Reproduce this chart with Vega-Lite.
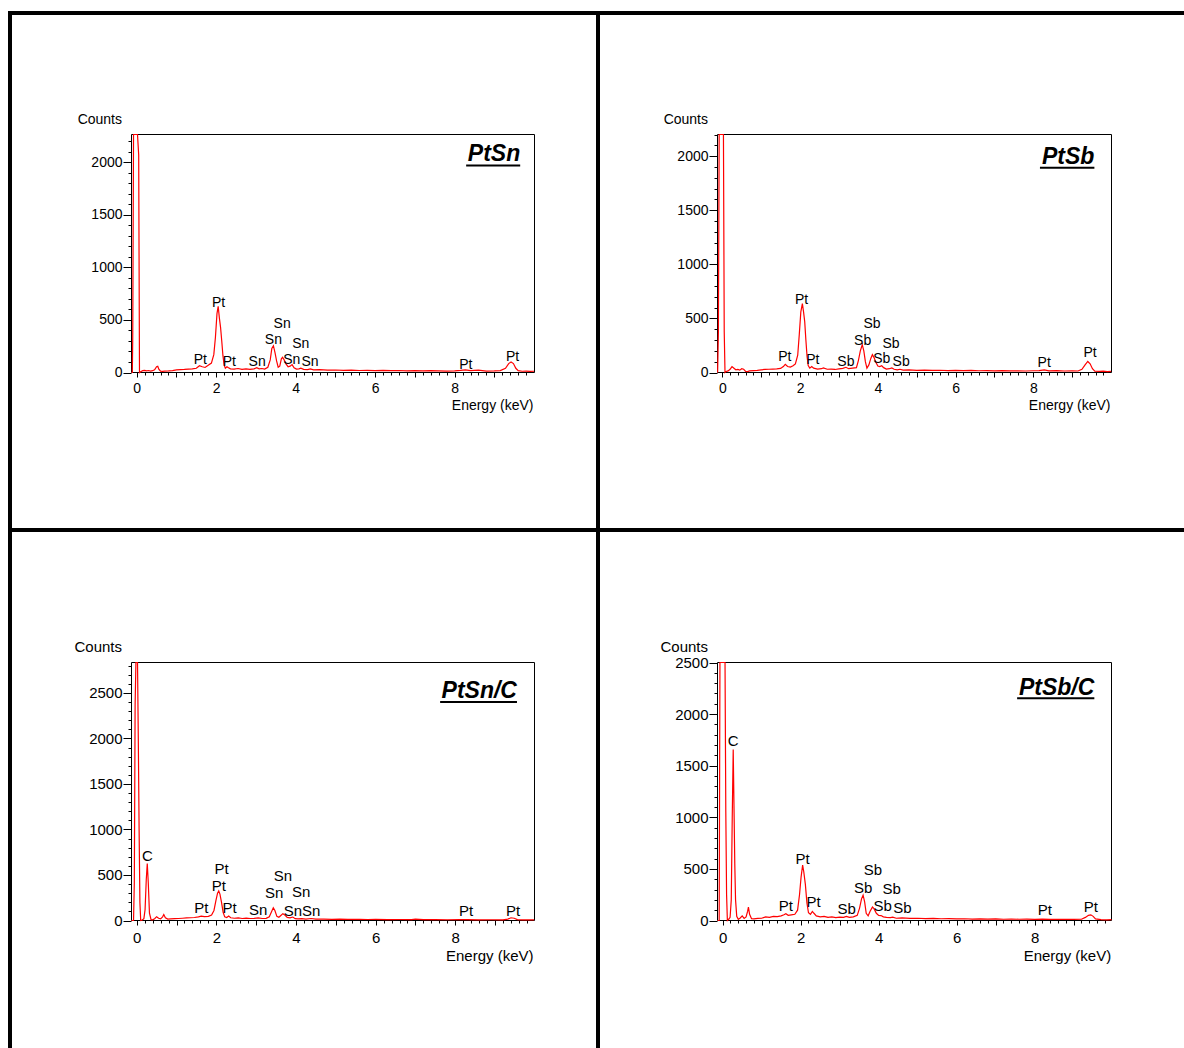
{
  "$schema": "https://vega.github.io/schema/vega-lite/v6.json",
  "padding": {"left": 8, "top": 11, "right": 0, "bottom": 0},
  "background": "white",
  "config": {
    "view": {"stroke": "black", "strokeWidth": 4, "fill": "white"},
    "axis": {
      "domain": false, "grid": false, "tickColor": "black", "tickWidth": 1,
      "labelColor": "black", "labelFont": "Liberation Sans", "titleFont": "Liberation Sans",
      "titleColor": "black", "titleFontWeight": "normal", "labelOverlap": false, "labelFlush": false,
      "titleAngle": 0, "titleBaseline": "alphabetic", "titleAlign": "right"
    },
    "text": {"font": "Liberation Sans", "color": "black"}
  },
  "datasets": {
    "ptsn": [
      {"e":-0.13,"c":0},{"e":-0.11,"c":0},{"e":-0.1,"c":330},{"e":-0.08,"c":6000},{"e":0.02,"c":6000},{"e":0.05,"c":2070},{"e":0.07,"c":0},{"e":0.1,"c":8},{"e":0.15,"c":18},{"e":0.2,"c":20},{"e":0.25,"c":16},{"e":0.3,"c":19},{"e":0.35,"c":14},{"e":0.4,"c":17},{"e":0.45,"c":25},{"e":0.5,"c":55},{"e":0.53,"c":60},{"e":0.56,"c":30},{"e":0.6,"c":12},{"e":0.65,"c":10},{"e":0.7,"c":13},{"e":0.8,"c":15},{"e":0.9,"c":18},{"e":1.0,"c":25},{"e":1.1,"c":28},{"e":1.2,"c":30},{"e":1.3,"c":33},{"e":1.4,"c":35},{"e":1.5,"c":40},{"e":1.58,"c":65},{"e":1.65,"c":55},{"e":1.72,"c":48},{"e":1.8,"c":70},{"e":1.88,"c":90},{"e":1.94,"c":170},{"e":1.98,"c":330},{"e":2.02,"c":560},{"e":2.05,"c":630},{"e":2.08,"c":520},{"e":2.11,"c":430},{"e":2.14,"c":300},{"e":2.17,"c":160},{"e":2.2,"c":70},{"e":2.23,"c":40},{"e":2.27,"c":55},{"e":2.31,"c":45},{"e":2.36,"c":35},{"e":2.45,"c":32},{"e":2.55,"c":38},{"e":2.65,"c":30},{"e":2.75,"c":35},{"e":2.85,"c":30},{"e":2.95,"c":35},{"e":3.02,"c":45},{"e":3.08,"c":35},{"e":3.15,"c":38},{"e":3.22,"c":33},{"e":3.3,"c":50},{"e":3.36,"c":120},{"e":3.4,"c":230},{"e":3.44,"c":255},{"e":3.48,"c":190},{"e":3.52,"c":110},{"e":3.56,"c":50},{"e":3.6,"c":60},{"e":3.64,"c":130},{"e":3.67,"c":145},{"e":3.71,"c":120},{"e":3.76,"c":80},{"e":3.81,"c":55},{"e":3.86,"c":60},{"e":3.91,"c":75},{"e":3.96,"c":45},{"e":4.02,"c":32},{"e":4.08,"c":35},{"e":4.13,"c":42},{"e":4.2,"c":30},{"e":4.3,"c":28},{"e":4.37,"c":35},{"e":4.45,"c":25},{"e":4.6,"c":27},{"e":4.8,"c":22},{"e":5.0,"c":24},{"e":5.2,"c":20},{"e":5.4,"c":22},{"e":5.6,"c":19},{"e":5.8,"c":21},{"e":6.0,"c":18},{"e":6.2,"c":20},{"e":6.4,"c":17},{"e":6.6,"c":19},{"e":6.8,"c":16},{"e":7.0,"c":18},{"e":7.2,"c":15},{"e":7.4,"c":17},{"e":7.6,"c":15},{"e":7.8,"c":14},{"e":8.0,"c":16},{"e":8.15,"c":20},{"e":8.27,"c":25},{"e":8.4,"c":17},{"e":8.6,"c":22},{"e":8.8,"c":14},{"e":9.0,"c":15},{"e":9.15,"c":18},{"e":9.28,"c":40},{"e":9.36,"c":85},{"e":9.42,"c":100},{"e":9.48,"c":85},{"e":9.54,"c":40},{"e":9.6,"c":18},{"e":9.7,"c":12},{"e":9.8,"c":14},{"e":9.9,"c":11},{"e":10.0,"c":12}
    ],
    "ptsb": [
      {"e":-0.12,"c":0},{"e":-0.1,"c":370},{"e":-0.08,"c":6000},{"e":0.03,"c":6000},{"e":0.05,"c":380},{"e":0.07,"c":0},{"e":0.1,"c":10},{"e":0.15,"c":15},{"e":0.2,"c":30},{"e":0.25,"c":55},{"e":0.3,"c":40},{"e":0.35,"c":25},{"e":0.4,"c":28},{"e":0.45,"c":22},{"e":0.5,"c":35},{"e":0.55,"c":30},{"e":0.6,"c":10},{"e":0.65,"c":8},{"e":0.7,"c":15},{"e":0.8,"c":18},{"e":0.9,"c":20},{"e":1.0,"c":25},{"e":1.1,"c":28},{"e":1.2,"c":30},{"e":1.3,"c":32},{"e":1.4,"c":34},{"e":1.5,"c":38},{"e":1.57,"c":55},{"e":1.62,"c":75},{"e":1.68,"c":55},{"e":1.75,"c":50},{"e":1.82,"c":62},{"e":1.88,"c":80},{"e":1.94,"c":160},{"e":1.98,"c":350},{"e":2.02,"c":560},{"e":2.06,"c":636},{"e":2.09,"c":560},{"e":2.12,"c":470},{"e":2.15,"c":300},{"e":2.18,"c":150},{"e":2.21,"c":65},{"e":2.25,"c":40},{"e":2.3,"c":55},{"e":2.35,"c":40},{"e":2.45,"c":32},{"e":2.55,"c":35},{"e":2.6,"c":42},{"e":2.7,"c":30},{"e":2.8,"c":32},{"e":2.9,"c":28},{"e":3.0,"c":33},{"e":3.1,"c":38},{"e":3.18,"c":48},{"e":3.25,"c":35},{"e":3.35,"c":40},{"e":3.45,"c":45},{"e":3.5,"c":110},{"e":3.55,"c":200},{"e":3.6,"c":257},{"e":3.64,"c":200},{"e":3.68,"c":100},{"e":3.72,"c":40},{"e":3.77,"c":70},{"e":3.82,"c":130},{"e":3.86,"c":165},{"e":3.9,"c":140},{"e":3.95,"c":95},{"e":4.0,"c":60},{"e":4.05,"c":55},{"e":4.1,"c":62},{"e":4.15,"c":45},{"e":4.22,"c":32},{"e":4.3,"c":35},{"e":4.36,"c":42},{"e":4.42,"c":30},{"e":4.5,"c":25},{"e":4.57,"c":30},{"e":4.65,"c":22},{"e":4.8,"c":24},{"e":5.0,"c":20},{"e":5.2,"c":22},{"e":5.4,"c":19},{"e":5.6,"c":21},{"e":5.8,"c":18},{"e":6.0,"c":20},{"e":6.2,"c":17},{"e":6.4,"c":19},{"e":6.6,"c":16},{"e":6.8,"c":18},{"e":7.0,"c":15},{"e":7.2,"c":17},{"e":7.4,"c":15},{"e":7.6,"c":16},{"e":7.8,"c":14},{"e":8.0,"c":16},{"e":8.15,"c":18},{"e":8.28,"c":24},{"e":8.4,"c":15},{"e":8.6,"c":17},{"e":8.8,"c":14},{"e":9.0,"c":15},{"e":9.15,"c":14},{"e":9.25,"c":30},{"e":9.33,"c":70},{"e":9.4,"c":102},{"e":9.46,"c":80},{"e":9.52,"c":35},{"e":9.58,"c":12},{"e":9.7,"c":10},{"e":9.8,"c":12},{"e":9.9,"c":9},{"e":10.0,"c":10}
    ],
    "ptsnc": [
      {"e":-0.13,"c":0},{"e":-0.08,"c":0},{"e":-0.06,"c":420},{"e":-0.04,"c":2370},{"e":-0.02,"c":6000},{"e":0.02,"c":6000},{"e":0.04,"c":1990},{"e":0.06,"c":1000},{"e":0.08,"c":200},{"e":0.1,"c":0},{"e":0.14,"c":5},{"e":0.18,"c":20},{"e":0.21,"c":120},{"e":0.24,"c":450},{"e":0.265,"c":627},{"e":0.29,"c":420},{"e":0.32,"c":80},{"e":0.36,"c":10},{"e":0.4,"c":8},{"e":0.45,"c":20},{"e":0.5,"c":42},{"e":0.55,"c":25},{"e":0.6,"c":18},{"e":0.65,"c":40},{"e":0.68,"c":65},{"e":0.72,"c":30},{"e":0.78,"c":15},{"e":0.85,"c":18},{"e":0.95,"c":20},{"e":1.05,"c":22},{"e":1.15,"c":25},{"e":1.25,"c":28},{"e":1.35,"c":30},{"e":1.45,"c":33},{"e":1.55,"c":40},{"e":1.62,"c":48},{"e":1.7,"c":42},{"e":1.8,"c":45},{"e":1.88,"c":60},{"e":1.94,"c":110},{"e":1.99,"c":220},{"e":2.03,"c":300},{"e":2.06,"c":325},{"e":2.09,"c":290},{"e":2.13,"c":200},{"e":2.17,"c":90},{"e":2.21,"c":40},{"e":2.26,"c":32},{"e":2.31,"c":48},{"e":2.36,"c":30},{"e":2.45,"c":25},{"e":2.55,"c":28},{"e":2.65,"c":22},{"e":2.75,"c":25},{"e":2.85,"c":22},{"e":2.95,"c":24},{"e":3.05,"c":28},{"e":3.15,"c":22},{"e":3.25,"c":24},{"e":3.33,"c":40},{"e":3.38,"c":90},{"e":3.43,"c":140},{"e":3.47,"c":110},{"e":3.52,"c":45},{"e":3.57,"c":35},{"e":3.62,"c":55},{"e":3.67,"c":75},{"e":3.72,"c":60},{"e":3.78,"c":35},{"e":3.85,"c":30},{"e":3.92,"c":38},{"e":3.98,"c":20},{"e":4.05,"c":18},{"e":4.15,"c":20},{"e":4.25,"c":16},{"e":4.38,"c":22},{"e":4.5,"c":15},{"e":4.7,"c":16},{"e":4.9,"c":13},{"e":5.1,"c":15},{"e":5.3,"c":12},{"e":5.6,"c":14},{"e":5.8,"c":11},{"e":6.0,"c":12},{"e":6.3,"c":10},{"e":6.6,"c":11},{"e":6.9,"c":10},{"e":7.0,"c":14},{"e":7.2,"c":9},{"e":7.5,"c":10},{"e":7.8,"c":8},{"e":8.1,"c":9},{"e":8.3,"c":10},{"e":8.6,"c":7},{"e":8.9,"c":8},{"e":9.2,"c":7},{"e":9.32,"c":15},{"e":9.4,"c":30},{"e":9.48,"c":25},{"e":9.56,"c":10},{"e":9.7,"c":7},{"e":9.85,"c":6},{"e":9.98,"c":7}
    ],
    "ptsbc": [
      {"e":-0.13,"c":0},{"e":-0.09,"c":0},{"e":-0.07,"c":6000},{"e":0.06,"c":6000},{"e":0.08,"c":1050},{"e":0.1,"c":250},{"e":0.12,"c":0},{"e":0.15,"c":10},{"e":0.19,"c":30},{"e":0.22,"c":200},{"e":0.245,"c":1000},{"e":0.27,"c":1657},{"e":0.29,"c":1100},{"e":0.31,"c":550},{"e":0.33,"c":200},{"e":0.36,"c":40},{"e":0.4,"c":12},{"e":0.45,"c":25},{"e":0.5,"c":45},{"e":0.55,"c":20},{"e":0.6,"c":35},{"e":0.64,"c":90},{"e":0.66,"c":130},{"e":0.69,"c":60},{"e":0.74,"c":18},{"e":0.8,"c":15},{"e":0.9,"c":20},{"e":1.0,"c":22},{"e":1.1,"c":35},{"e":1.2,"c":30},{"e":1.3,"c":40},{"e":1.4,"c":38},{"e":1.5,"c":45},{"e":1.57,"c":55},{"e":1.62,"c":65},{"e":1.68,"c":50},{"e":1.76,"c":55},{"e":1.85,"c":60},{"e":1.92,"c":100},{"e":1.97,"c":250},{"e":2.01,"c":420},{"e":2.05,"c":536},{"e":2.08,"c":470},{"e":2.12,"c":350},{"e":2.16,"c":170},{"e":2.2,"c":75},{"e":2.25,"c":60},{"e":2.3,"c":88},{"e":2.34,"c":70},{"e":2.4,"c":45},{"e":2.5,"c":35},{"e":2.6,"c":40},{"e":2.7,"c":30},{"e":2.8,"c":35},{"e":2.9,"c":28},{"e":3.0,"c":32},{"e":3.1,"c":30},{"e":3.17,"c":40},{"e":3.25,"c":30},{"e":3.35,"c":35},{"e":3.45,"c":50},{"e":3.51,"c":120},{"e":3.56,"c":210},{"e":3.6,"c":245},{"e":3.64,"c":180},{"e":3.68,"c":70},{"e":3.73,"c":45},{"e":3.78,"c":90},{"e":3.84,"c":130},{"e":3.88,"c":115},{"e":3.94,"c":70},{"e":4.0,"c":50},{"e":4.06,"c":48},{"e":4.12,"c":35},{"e":4.2,"c":30},{"e":4.3,"c":28},{"e":4.36,"c":32},{"e":4.45,"c":22},{"e":4.6,"c":25},{"e":4.8,"c":20},{"e":5.0,"c":22},{"e":5.2,"c":18},{"e":5.4,"c":20},{"e":5.6,"c":17},{"e":5.8,"c":18},{"e":6.0,"c":15},{"e":6.2,"c":17},{"e":6.4,"c":14},{"e":6.6,"c":15},{"e":6.8,"c":13},{"e":7.0,"c":15},{"e":7.2,"c":12},{"e":7.4,"c":14},{"e":7.6,"c":12},{"e":7.8,"c":13},{"e":8.0,"c":11},{"e":8.2,"c":14},{"e":8.4,"c":11},{"e":8.6,"c":12},{"e":8.8,"c":10},{"e":9.0,"c":11},{"e":9.2,"c":12},{"e":9.3,"c":30},{"e":9.38,"c":50},{"e":9.44,"c":55},{"e":9.5,"c":40},{"e":9.56,"c":15},{"e":9.7,"c":8},{"e":9.85,"c":7},{"e":9.97,"c":8}
    ],
    "ptsnLabels": [
      {"e":2.06,"c":620,"t":"Pt"},{"e":1.6,"c":82,"t":"Pt"},{"e":2.33,"c":66,"t":"Pt"},{"e":3.03,"c":66,"t":"Sn"},{"e":3.44,"c":272,"t":"Sn"},{"e":3.66,"c":423,"t":"Sn"},{"e":3.9,"c":82,"t":"Sn"},{"e":4.13,"c":234,"t":"Sn"},{"e":4.36,"c":66,"t":"Sn"},{"e":8.28,"c":38,"t":"Pt"},{"e":9.46,"c":114,"t":"Pt"}
    ],
    "ptsbLabels": [
      {"e":2.04,"c":629,"t":"Pt"},{"e":1.61,"c":108,"t":"Pt"},{"e":2.33,"c":78,"t":"Pt"},{"e":3.18,"c":62,"t":"Sb"},{"e":3.61,"c":257,"t":"Sb"},{"e":3.85,"c":409,"t":"Sb"},{"e":4.1,"c":87,"t":"Sb"},{"e":4.34,"c":229,"t":"Sb"},{"e":4.6,"c":56,"t":"Sb"},{"e":8.28,"c":47,"t":"Pt"},{"e":9.46,"c":143,"t":"Pt"}
    ],
    "ptsncLabels": [
      {"e":0.27,"c":657,"t":"C"},{"e":2.13,"c":509,"t":"Pt"},{"e":2.06,"c":321,"t":"Pt"},{"e":1.62,"c":85,"t":"Pt"},{"e":2.33,"c":81,"t":"Pt"},{"e":3.05,"c":55,"t":"Sn"},{"e":3.45,"c":247,"t":"Sn"},{"e":3.67,"c":432,"t":"Sn"},{"e":4.13,"c":258,"t":"Sn"},{"e":3.92,"c":52,"t":"Sn"},{"e":4.38,"c":52,"t":"Sn"},{"e":8.27,"c":44,"t":"Pt"},{"e":9.45,"c":48,"t":"Pt"}
    ],
    "ptsbcLabels": [
      {"e":0.27,"c":1690,"t":"C"},{"e":2.05,"c":543,"t":"Pt"},{"e":1.62,"c":91,"t":"Pt"},{"e":2.33,"c":130,"t":"Pt"},{"e":3.18,"c":65,"t":"Sb"},{"e":3.6,"c":267,"t":"Sb"},{"e":3.85,"c":439,"t":"Sb"},{"e":4.33,"c":254,"t":"Sb"},{"e":4.1,"c":88,"t":"Sb"},{"e":4.61,"c":72,"t":"Sb"},{"e":8.26,"c":49,"t":"Pt"},{"e":9.44,"c":78,"t":"Pt"}
    ]
  },
  "columns": 2,
  "spacing": 0,
  "bounds": "flush",
  "concat": [
    {
      "width": 588, "height": 517,
      "resolve": {"axis": {"x": "independent", "y": "independent"}},
      "layer": [
        {
          "data": {"values": [{}]},
          "mark": {"type": "rect", "filled": false, "stroke": "black", "strokeWidth": 1},
          "encoding": {
            "x": {"datum": -0.131, "type": "quantitative", "axis": {"orient": "bottom", "offset": -158, "labels": false, "tickSize": 3, "title": null, "values": [0.2,0.4,0.6,0.8,1.2,1.4,1.6,1.8,2.2,2.4,2.6,2.8,3.2,3.4,3.6,3.8,4.2,4.4,4.6,4.8,5.2,5.4,5.6,5.8,6.2,6.4,6.6,6.8,7.2,7.4,7.6,7.8,8.2,8.4,8.6,8.8,9.2,9.4,9.6,9.8]}},
            "x2": {"datum": 10.01},
            "y": {"datum": 0, "type": "quantitative", "axis": {"orient": "left", "offset": -121, "labels": false, "tickSize": 3, "title": null, "values": [100,200,300,400,600,700,800,900,1100,1200,1300,1400,1600,1700,1800,1900,2100,2200]}},
            "y2": {"datum": 2265}
          }
        },
        {
          "data": {"name": "ptsn"},
          "mark": {"type": "line", "color": "#ff0000", "strokeWidth": 1.2},
          "encoding": {
            "x": {
              "field": "e", "type": "quantitative",
              "scale": {"domain": [-0.131, 10.01], "range": [121.5, 524.5], "nice": false, "zero": false},
              "axis": {
                "orient": "bottom", "offset": -158, "values": [0,1,2,3,4,5,6,7,8,9],
                "labelExpr": "datum.value % 2 === 0 ? datum.label : ''",
                "tickSize": 5, "labelPadding": 4.5, "labelFontSize": 14,
                "title": "Energy (keV)", "titleFontSize": 14, "titleX": 523, "titleY": 37
              }
            },
            "y": {
              "field": "c", "type": "quantitative",
              "scale": {"domain": [0, 2265], "range": [359.5, 121.5], "nice": false, "clamp": true},
              "axis": {
                "orient": "left", "offset": -121, "values": [0,500,1000,1500,2000], "format": "d",
                "tickSize": 8, "labelPadding": 1, "labelFontSize": 14,
                "title": "Counts", "titleFontSize": 14, "titleX": -9.5, "titleY": 110
              }
            }
          }
        },
        {
          "data": {"name": "ptsnLabels"},
          "mark": {"type": "text", "align": "center", "baseline": "alphabetic", "fontSize": 14},
          "encoding": {
            "x": {"field": "e", "type": "quantitative", "axis": null},
            "y": {"field": "c", "type": "quantitative", "axis": null},
            "text": {"field": "t"}
          }
        },
        {
          "data": {"values": [{"t": "PtSn"}]},
          "mark": {"type": "text", "align": "right", "baseline": "alphabetic", "fontSize": 23, "fontWeight": "bold", "fontStyle": "italic"},
          "encoding": {
            "x": {"datum": 9.65, "type": "quantitative", "axis": null},
            "y": {"datum": 2013, "type": "quantitative", "axis": null},
            "text": {"field": "t"}
          }
        },
        {
          "data": {"values": [{}]},
          "mark": {"type": "rule", "color": "black", "strokeWidth": 2},
          "encoding": {
            "x": {"datum": 8.29, "type": "quantitative", "axis": null}, "x2": {"datum": 9.65},
            "y": {"datum": 1970, "type": "quantitative", "axis": null}
          }
        }
      ]
    },
    {
      "width": 588, "height": 517,
      "resolve": {"axis": {"x": "independent", "y": "independent"}},
      "layer": [
        {
          "data": {"values": [{}]},
          "mark": {"type": "rect", "filled": false, "stroke": "black", "strokeWidth": 1},
          "encoding": {
            "x": {"datum": -0.123, "type": "quantitative", "axis": {"orient": "bottom", "offset": -158, "labels": false, "tickSize": 3, "title": null, "values": [0.2,0.4,0.6,0.8,1.2,1.4,1.6,1.8,2.2,2.4,2.6,2.8,3.2,3.4,3.6,3.8,4.2,4.4,4.6,4.8,5.2,5.4,5.6,5.8,6.2,6.4,6.6,6.8,7.2,7.4,7.6,7.8,8.2,8.4,8.6,8.8,9.2,9.4,9.6,9.8]}},
            "x2": {"datum": 10.01},
            "y": {"datum": 0, "type": "quantitative", "axis": {"orient": "left", "offset": -119, "labels": false, "tickSize": 3, "title": null, "values": [100,200,300,400,600,700,800,900,1100,1200,1300,1400,1600,1700,1800,1900,2100,2200]}},
            "y2": {"datum": 2200}
          }
        },
        {
          "data": {"name": "ptsb"},
          "mark": {"type": "line", "color": "#ff0000", "strokeWidth": 1.2},
          "encoding": {
            "x": {
              "field": "e", "type": "quantitative",
              "scale": {"domain": [-0.123, 10.01], "range": [119.5, 513.5], "nice": false, "zero": false},
              "axis": {
                "orient": "bottom", "offset": -158, "values": [0,1,2,3,4,5,6,7,8,9],
                "labelExpr": "datum.value % 2 === 0 ? datum.label : ''",
                "tickSize": 5, "labelPadding": 4.5, "labelFontSize": 14,
                "title": "Energy (keV)", "titleFontSize": 14, "titleX": 512, "titleY": 37
              }
            },
            "y": {
              "field": "c", "type": "quantitative",
              "scale": {"domain": [0, 2200], "range": [359.5, 121.5], "nice": false, "clamp": true},
              "axis": {
                "orient": "left", "offset": -119, "values": [0,500,1000,1500,2000], "format": "d",
                "tickSize": 8, "labelPadding": 1, "labelFontSize": 14,
                "title": "Counts", "titleFontSize": 14, "titleX": -9.5, "titleY": 110
              }
            }
          }
        },
        {
          "data": {"name": "ptsbLabels"},
          "mark": {"type": "text", "align": "center", "baseline": "alphabetic", "fontSize": 14},
          "encoding": {
            "x": {"field": "e", "type": "quantitative", "axis": null},
            "y": {"field": "c", "type": "quantitative", "axis": null},
            "text": {"field": "t"}
          }
        },
        {
          "data": {"values": [{"t": "PtSb"}]},
          "mark": {"type": "text", "align": "right", "baseline": "alphabetic", "fontSize": 23, "fontWeight": "bold", "fontStyle": "italic"},
          "encoding": {
            "x": {"datum": 9.57, "type": "quantitative", "axis": null},
            "y": {"datum": 1927, "type": "quantitative", "axis": null},
            "text": {"field": "t"}
          }
        },
        {
          "data": {"values": [{}]},
          "mark": {"type": "rule", "color": "black", "strokeWidth": 2},
          "encoding": {
            "x": {"datum": 8.17, "type": "quantitative", "axis": null}, "x2": {"datum": 9.57},
            "y": {"datum": 1893, "type": "quantitative", "axis": null}
          }
        }
      ]
    },
    {
      "width": 588, "height": 525,
      "resolve": {"axis": {"x": "independent", "y": "independent"}},
      "layer": [
        {
          "data": {"values": [{}]},
          "mark": {"type": "rect", "filled": false, "stroke": "black", "strokeWidth": 1},
          "encoding": {
            "x": {"datum": -0.131, "type": "quantitative", "axis": {"orient": "bottom", "offset": -135, "labels": false, "tickSize": 3, "title": null, "values": [0.2,0.4,0.6,0.8,1.2,1.4,1.6,1.8,2.2,2.4,2.6,2.8,3.2,3.4,3.6,3.8,4.2,4.4,4.6,4.8,5.2,5.4,5.6,5.8,6.2,6.4,6.6,6.8,7.2,7.4,7.6,7.8,8.2,8.4,8.6,8.8,9.2,9.4,9.6,9.8]}},
            "x2": {"datum": 9.99},
            "y": {"datum": 0, "type": "quantitative", "axis": {"orient": "left", "offset": -121, "labels": false, "tickSize": 3, "title": null, "values": [100,200,300,400,600,700,800,900,1100,1200,1300,1400,1600,1700,1800,1900,2100,2200,2300,2400,2600,2700,2800]}},
            "y2": {"datum": 2835}
          }
        },
        {
          "data": {"name": "ptsnc"},
          "mark": {"type": "line", "color": "#ff0000", "strokeWidth": 1.2},
          "encoding": {
            "x": {
              "field": "e", "type": "quantitative",
              "scale": {"domain": [-0.131, 9.99], "range": [121.5, 524.5], "nice": false, "zero": false},
              "axis": {
                "orient": "bottom", "offset": -135, "values": [0,1,2,3,4,5,6,7,8,9],
                "labelExpr": "datum.value % 2 === 0 ? datum.label : ''",
                "tickSize": 5, "labelPadding": 5.5, "labelFontSize": 15,
                "title": "Energy (keV)", "titleFontSize": 15, "titleX": 523, "titleY": 40
              }
            },
            "y": {
              "field": "c", "type": "quantitative",
              "scale": {"domain": [0, 2835], "range": [390.5, 132.5], "nice": false, "clamp": true},
              "axis": {
                "orient": "left", "offset": -121, "values": [0,500,1000,1500,2000,2500], "format": "d",
                "tickSize": 8, "labelPadding": 1, "labelFontSize": 15,
                "title": "Counts", "titleFontSize": 15, "titleX": -9.5, "titleY": 121
              }
            }
          }
        },
        {
          "data": {"name": "ptsncLabels"},
          "mark": {"type": "text", "align": "center", "baseline": "alphabetic", "fontSize": 15},
          "encoding": {
            "x": {"field": "e", "type": "quantitative", "axis": null},
            "y": {"field": "c", "type": "quantitative", "axis": null},
            "text": {"field": "t"}
          }
        },
        {
          "data": {"values": [{"t": "PtSn/C"}]},
          "mark": {"type": "text", "align": "right", "baseline": "alphabetic", "fontSize": 23, "fontWeight": "bold", "fontStyle": "italic"},
          "encoding": {
            "x": {"datum": 9.55, "type": "quantitative", "axis": null},
            "y": {"datum": 2442, "type": "quantitative", "axis": null},
            "text": {"field": "t"}
          }
        },
        {
          "data": {"values": [{}]},
          "mark": {"type": "rule", "color": "black", "strokeWidth": 2},
          "encoding": {
            "x": {"datum": 7.62, "type": "quantitative", "axis": null}, "x2": {"datum": 9.55},
            "y": {"datum": 2401, "type": "quantitative", "axis": null}
          }
        }
      ]
    },
    {
      "width": 588, "height": 525,
      "resolve": {"axis": {"x": "independent", "y": "independent"}},
      "layer": [
        {
          "data": {"values": [{}]},
          "mark": {"type": "rect", "filled": false, "stroke": "black", "strokeWidth": 1},
          "encoding": {
            "x": {"datum": -0.133, "type": "quantitative", "axis": {"orient": "bottom", "offset": -135, "labels": false, "tickSize": 3, "title": null, "values": [0.2,0.4,0.6,0.8,1.2,1.4,1.6,1.8,2.2,2.4,2.6,2.8,3.2,3.4,3.6,3.8,4.2,4.4,4.6,4.8,5.2,5.4,5.6,5.8,6.2,6.4,6.6,6.8,7.2,7.4,7.6,7.8,8.2,8.4,8.6,8.8,9.2,9.4,9.6,9.8]}},
            "x2": {"datum": 9.97},
            "y": {"datum": 0, "type": "quantitative", "axis": {"orient": "left", "offset": -119, "labels": false, "tickSize": 3, "title": null, "values": [100,200,300,400,600,700,800,900,1100,1200,1300,1400,1600,1700,1800,1900,2100,2200,2300,2400]}},
            "y2": {"datum": 2500}
          }
        },
        {
          "data": {"name": "ptsbc"},
          "mark": {"type": "line", "color": "#ff0000", "strokeWidth": 1.2},
          "encoding": {
            "x": {
              "field": "e", "type": "quantitative",
              "scale": {"domain": [-0.133, 9.97], "range": [119.5, 513.5], "nice": false, "zero": false},
              "axis": {
                "orient": "bottom", "offset": -135, "values": [0,1,2,3,4,5,6,7,8,9],
                "labelExpr": "datum.value % 2 === 0 ? datum.label : ''",
                "tickSize": 5, "labelPadding": 5.5, "labelFontSize": 15,
                "title": "Energy (keV)", "titleFontSize": 15, "titleX": 512.7, "titleY": 40
              }
            },
            "y": {
              "field": "c", "type": "quantitative",
              "scale": {"domain": [0, 2500], "range": [390.5, 132.5], "nice": false, "clamp": true},
              "axis": {
                "orient": "left", "offset": -119, "values": [0,500,1000,1500,2000,2500], "format": "d",
                "tickSize": 8, "labelPadding": 1, "labelFontSize": 15,
                "title": "Counts", "titleFontSize": 15, "titleX": -9.5, "titleY": 121
              }
            }
          }
        },
        {
          "data": {"name": "ptsbcLabels"},
          "mark": {"type": "text", "align": "center", "baseline": "alphabetic", "fontSize": 15},
          "encoding": {
            "x": {"field": "e", "type": "quantitative", "axis": null},
            "y": {"field": "c", "type": "quantitative", "axis": null},
            "text": {"field": "t"}
          }
        },
        {
          "data": {"values": [{"t": "PtSb/C"}]},
          "mark": {"type": "text", "align": "right", "baseline": "alphabetic", "fontSize": 23, "fontWeight": "bold", "fontStyle": "italic"},
          "encoding": {
            "x": {"datum": 9.53, "type": "quantitative", "axis": null},
            "y": {"datum": 2185, "type": "quantitative", "axis": null},
            "text": {"field": "t"}
          }
        },
        {
          "data": {"values": [{}]},
          "mark": {"type": "rule", "color": "black", "strokeWidth": 2},
          "encoding": {
            "x": {"datum": 7.55, "type": "quantitative", "axis": null}, "x2": {"datum": 9.53},
            "y": {"datum": 2153, "type": "quantitative", "axis": null}
          }
        }
      ]
    }
  ]
}
